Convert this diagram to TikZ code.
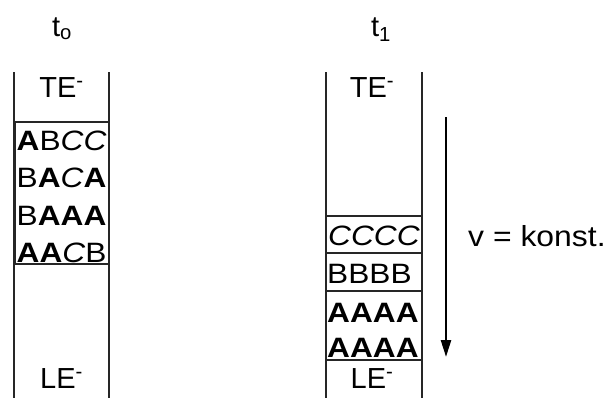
\documentclass[tikz,border=0pt]{standalone}
\usepackage{fontspec}
\setmainfont{Liberation Sans}
\usetikzlibrary{arrows.meta}
\colorlet{wall}{black!85}

\begin{document}
\begin{tikzpicture}[x=1pt,y=-1pt,
            lbl/.style={inner sep=0pt,anchor=base,font=\fontsize{29}{32}\selectfont},
            seq/.style={inner sep=0pt,anchor=base west,xscale=1.13,font=\fontsize{28}{30}\selectfont}]
            \useasboundingbox (0,0) rectangle (609,402);
            % left column, t_o
            \draw [wall,line width=1.3pt] (14,72) -- (14,398) (109,72) -- (109,398);
            \draw [wall,line width=1.3pt] (15.5,122) rectangle (109,264);
            \node [lbl] (to) at (62,36) {t\textsubscript{o}};
            \node [lbl] (teo) at (61.5,97) {TE\textsuperscript{-}};
            \node [lbl] (leo) at (61.5,388) {LE\textsuperscript{-}};
            \node [seq] (so1) at (16.5,150) {\textbf{A}B\textit{CC}};
            \node [seq] (so2) at (16.5,187) {B\textbf{A}\textit{C}\textbf{A}};
            \node [seq] (so3) at (16.5,225) {B\textbf{AAA}};
            \node [seq] (so4) at (16.5,262) {\textbf{AA}\textit{C}B};
            % right column, t_1
            \draw [wall,line width=1.3pt] (326,72) -- (326,398) (422,72) -- (422,398);
            \draw [wall,line width=1.3pt] (326,216) rectangle (422,253)
                (326,253) rectangle (422,291)
                (326,291) rectangle (422,360);
            \node [lbl] (ti) at (381,36) {t\textsubscript{1}};
            \node [lbl] (tei) at (372,97) {TE\textsuperscript{-}};
            \node [lbl] (lei) at (372,388) {LE\textsuperscript{-}};
            \node [seq] (si1) at (328,245) {\textit{CCCC}};
            \node [seq] (si2) at (327,283) {BBBB};
            \node [seq] (si3) at (327,322) {\textbf{AAAA}};
            \node [seq] (si4) at (327,357) {\textbf{AAAA}};
            % flow
            \coordinate (vtop) at (446,117);
            \coordinate (vbot) at (446,357);
            \draw [-{Triangle[width=10pt,length=17pt]},line width=2.5pt] (vtop) -- (vbot);
            \node [lbl,anchor=base west,xscale=1.1] (konst) at (468,246) {v = konst.};
        \end{tikzpicture}
\end{document}
